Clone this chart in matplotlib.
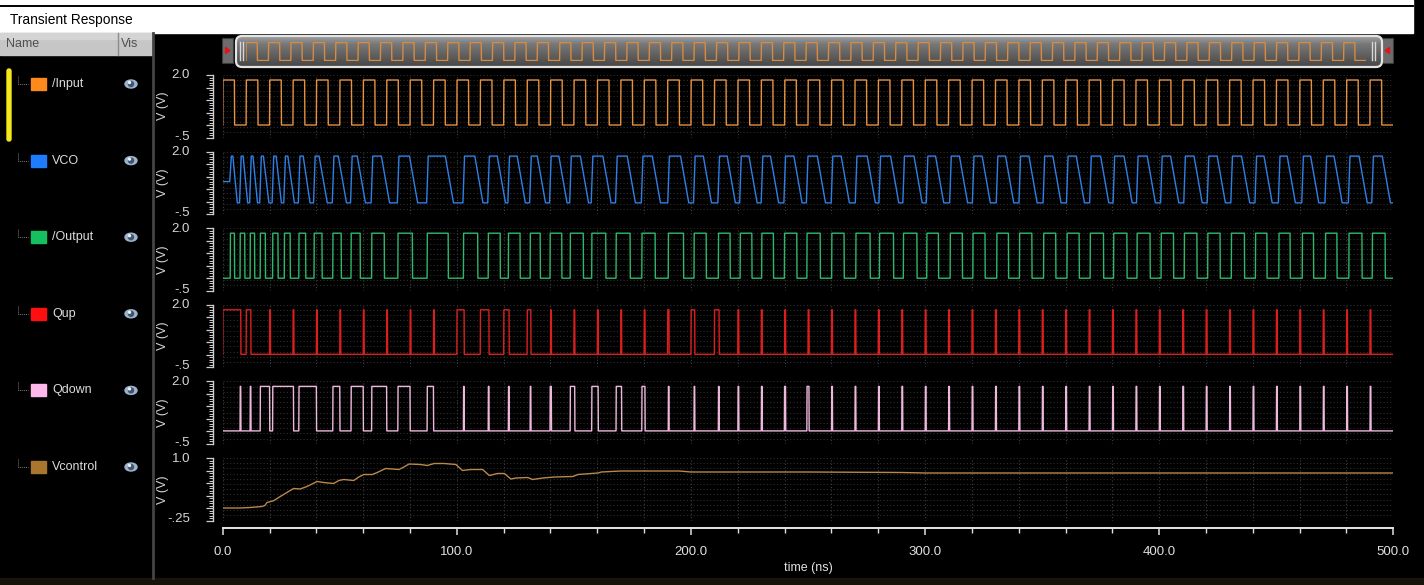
import numpy as np
import matplotlib
matplotlib.use("Agg")
import matplotlib.pyplot as plt
from matplotlib.patches import Rectangle, FancyBboxPatch, Ellipse, Polygon
from matplotlib.ticker import MultipleLocator

plt.rcParams["font.family"] = ["Liberation Sans", "DejaVu Sans"]

# ---------------------------------------------------------------- data ----
signal_names = ["/Input", "VCO", "/Output", "Qup", "Qdown", "Vcontrol"]
trace_colors = ["#E8923E", "#2F80E6", "#2DB86A", "#DC1E1E", "#EEB8DC", "#B8884C"]
swatch_colors = ["#FF8A1C", "#1E7CFF", "#16C060", "#FF0F0F", "#FFB8EA", "#A9762E"]
y_limits = [(-0.5, 2.0)] * 5 + [(-0.25, 1.0)]
y_end_labels = [("2.0", "-.5")] * 5 + [("1.0", "-.25")]
time_ticks_ns = [0, 100, 200, 300, 400, 500]
time_tick_labels = ["0.0", "100.0", "200.0", "300.0", "400.0", "500.0"]

t_stop_ns = 500.0

# reference clock
input_period_ns = 10.0
input_levels_v = (0.0, 1.8)

# buffered VCO output edges
output_rise_ns = [3.2, 7.4, 11.7, 16.0, 21.3, 26.3, 32.5, 39.0, 47.0, 54.8,
                  63.6, 74.8, 87.3, 102.8, 113.4, 122.0, 131.3, 139.8, 148.4, 157.6,
                  168.0, 179.0, 190.3, 201.3, 211.7, 221.0, 230.2, 239.9, 249.5, 260.1,
                  270.4, 280.5, 290.7, 300.7, 310.7, 320.4, 330.6, 340.3, 350.6, 360.6,
                  370.5, 380.5, 390.5, 400.8, 410.7, 420.7, 430.8, 441.1, 451.1, 461.1,
                  471.0, 481.0, 491.0]
output_fall_ns = [5.0, 9.4, 13.6, 18.2, 23.6, 28.8, 35.4, 42.4, 50.6, 58.7,
                  69.0, 81.0, 96.3, 108.9, 118.5, 127.0, 135.6, 144.8, 154.0, 163.6,
                  174.0, 184.7, 196.8, 206.5, 216.7, 226.0, 235.2, 245.2, 255.2, 265.4,
                  276.5, 286.5, 296.5, 305.7, 315.9, 325.6, 335.6, 345.6, 355.8, 365.8,
                  376.2, 386.2, 396.1, 406.1, 416.1, 426.0, 436.4, 446.0, 455.9, 465.9,
                  475.9, 486.6, 496.5]
output_levels_v = (0.0, 1.8)

# raw VCO node
vco_levels_v = (-0.05, 1.82)
vco_idle_v = 0.8

# phase-frequency detector outputs (UP starts on each reference edge)
qup_fall_ns = [7.7, 12.0, 20.35, 30.35, 40.35, 50.35, 60.35, 70.35, 80.35, 90.35,
               103.1, 113.7, 122.3, 131.6, 140.35, 150.35, 160.35, 170.35, 180.35, 190.6,
               201.6, 212.0, 220.4, 230.4, 240.4, 250.4, 260.4, 270.4, 280.4, 290.4,
               300.4, 310.4, 320.4, 330.4, 340.4, 350.4, 360.4, 370.4, 380.4, 390.4,
               400.4, 410.4, 420.4, 430.4, 440.4, 450.4, 460.4, 470.4, 480.4, 490.4]
qdown_rise_ns = [7.4, 11.7, 16.0, 21.3, 32.5, 47.0, 54.8, 63.6, 74.8, 87.3,
                 102.8, 113.4, 122.0, 131.3, 139.8, 148.4, 157.6, 168.0, 179.0, 190.3,
                 201.3, 211.7, 220.05, 230.05, 239.9, 249.5, 260.05, 270.05, 280.05, 290.05,
                 300.05, 310.05, 320.05, 330.05, 340.05, 350.05, 360.05, 370.05, 380.05, 390.05,
                 400.05, 410.05, 420.05, 430.05, 440.05, 450.05, 460.05, 470.05, 480.05, 490.05]
qdown_fall_ns = [7.7, 12.0, 20.0, 30.2, 40.0, 50.0, 60.0, 70.0, 80.0, 90.0,
                 103.1, 113.7, 122.3, 131.6, 140.35, 150.35, 160.35, 170.35, 180.35, 190.6,
                 201.6, 212.0, 220.4, 230.4, 240.4, 250.4, 260.4, 270.4, 280.4, 290.4,
                 300.4, 310.4, 320.4, 330.4, 340.4, 350.4, 360.4, 370.4, 380.4, 390.4,
                 400.4, 410.4, 420.4, 430.4, 440.4, 450.4, 460.4, 470.4, 480.4, 490.4]
pfd_levels_v = (0.02, 1.8)

# loop-filter control voltage
vcontrol_t_ns = [0.0, 7.4, 11.7, 16.7, 18.0, 18.9, 21.7, 24.6, 27.4, 30.3,
                 33.1, 36.0, 40.3, 43.1, 47.4, 49.6, 51.7, 56.0, 58.1, 60.3,
                 63.9, 66.0, 69.6, 75.3, 77.4, 79.6, 84.6, 87.4, 90.3, 94.6,
                 99.6, 102.4, 106.0, 111.0, 113.9, 117.4, 120.3, 123.1, 125.3, 130.3,
                 132.4, 136.7, 141.7, 149.6, 151.7, 160.3, 161.7, 170.0, 195.0, 200.0,
                 250.0, 290.0, 300.0, 400.0, 500.0]
vcontrol_v = [0.00, 0.00, 0.01, 0.03, 0.05, 0.11, 0.145, 0.23, 0.31, 0.39,
              0.38, 0.43, 0.53, 0.51, 0.49, 0.55, 0.57, 0.55, 0.62, 0.67,
              0.67, 0.71, 0.79, 0.77, 0.82, 0.88, 0.87, 0.85, 0.89, 0.89,
              0.87, 0.75, 0.77, 0.77, 0.65, 0.69, 0.69, 0.58, 0.60, 0.61,
              0.57, 0.60, 0.62, 0.63, 0.67, 0.70, 0.72, 0.74, 0.74, 0.72,
              0.72, 0.71, 0.70, 0.70, 0.70]

# ------------------------------------------------------------ helpers ----
W, H = 1424, 585
fig = plt.figure(figsize=(W / 100, H / 100), dpi=100, facecolor="black")


def px_axes(x0, y0, x1, y1, **kw):
    return fig.add_axes([x0 / W, 1 - y1 / H, (x1 - x0) / W, (y1 - y0) / H], **kw)


def pulse_train(rises, falls, lo, hi, t_end, edge=0.1):
    t, v = [0.0], [lo]
    for r, f in zip(rises, falls):
        t += [r, r + edge, f, f + edge]
        v += [lo, hi, hi, lo]
    t.append(t_end)
    v.append(lo)
    return np.array(t), np.array(v)


def vco_wave(rises, falls, lo, hi, idle, t_end):
    t, v = [0.0], [idle]
    n = len(rises)
    for i in range(n):
        r, f = rises[i], falls[i]
        r_next = rises[i + 1] if i + 1 < n else t_end + 10
        d = min(3.5, 0.45 * (r_next - r))
        t += [r - 0.2, r + 0.5, f - 0.35 * d, f + 0.65 * d]
        v += [idle if i == 0 else lo, hi, hi, lo]
    t.append(t_end)
    v.append(lo)
    return np.array(t), np.array(v)


input_rise_ns = np.arange(0.0, t_stop_ns, input_period_ns)
input_fall_ns = input_rise_ns + input_period_ns / 2

traces = [
    pulse_train(input_rise_ns, input_fall_ns, *input_levels_v, t_stop_ns),
    vco_wave(output_rise_ns, output_fall_ns, *vco_levels_v, vco_idle_v, t_stop_ns),
    pulse_train(output_rise_ns, output_fall_ns, *output_levels_v, t_stop_ns),
    pulse_train(input_rise_ns, qup_fall_ns, *pfd_levels_v, t_stop_ns),
    pulse_train(qdown_rise_ns, qdown_fall_ns, *pfd_levels_v, t_stop_ns),
    (np.array(vcontrol_t_ns), np.array(vcontrol_v)),
]

# ------------------------------------------------------- window chrome ----
bg = px_axes(0, 0, W, H)
bg.set_xlim(0, W)
bg.set_ylim(H, 0)
bg.axis("off")

bg.add_patch(Rectangle((0, 0), 1413, 33, color="white", zorder=1))
bg.plot([0, 1413], [5.5, 5.5], color="black", lw=1.4, zorder=2)
bg.text(10, 20, "Transient Response", color="black", fontsize=9.9, va="center", zorder=3)

# signal list header
bg.add_patch(Rectangle((0, 33), 152, 22, color="#c6c6c6", zorder=1))
bg.add_patch(Rectangle((0, 33), 152, 6, color="#d4d4d4", zorder=1))
bg.plot([117.5, 117.5], [33, 55], color="#8c8c8c", lw=1, zorder=2)
bg.text(6, 44, "Name", color="#505050", fontsize=9, va="center", zorder=3)
bg.text(121, 44, "Vis", color="#505050", fontsize=9, va="center", zorder=3)
bg.plot([152.5, 152.5], [33, 578], color="#444444", lw=2, zorder=2)
bg.add_patch(Rectangle((0, 578), W, 7, color="#17120a", zorder=1))

# selection marker
bg.add_patch(FancyBboxPatch((7, 69), 4, 72, boxstyle="round,pad=0,rounding_size=2",
                            color="#F2E81C", zorder=2))

STRIP_TOP0, STRIP_PITCH, STRIP_H = 75.0, 76.6, 62.5
X0, X1 = 222.7, 1393.3

for i, name in enumerate(signal_names):
    top = STRIP_TOP0 + i * STRIP_PITCH
    yc = top + 9
    bg.plot([18, 18, 28], [yc - 8, yc, yc], color="#777777", lw=0.7, ls=(0, (1, 1)), zorder=2)
    bg.add_patch(Rectangle((30.5, yc - 6), 15, 12, color=swatch_colors[i], zorder=2))
    bg.text(52, yc, name, color="#dcdcdc", fontsize=9, va="center", zorder=3)
    bg.add_patch(Ellipse((131, yc), 12, 8, color="#9fb4ca", zorder=2))
    bg.add_patch(Ellipse((131, yc), 5, 5, color="#3d5470", zorder=3))
    bg.add_patch(Ellipse((129.5, yc - 1.5), 2, 2, color="#e8f0f8", zorder=4))

# overview scrollbar
bar = FancyBboxPatch((236, 36), 1146, 31, boxstyle="round,pad=0,rounding_size=6",
                     facecolor="none", edgecolor="#e4e4e4", lw=1.6, zorder=4)
bg.add_patch(bar)
grad = np.concatenate([np.linspace(0.62, 0.45, 10), np.linspace(0.45, 0.28, 21)])[:, None]
im = bg.imshow(np.repeat(grad, 2, axis=1), cmap="gray", vmin=0, vmax=1, aspect="auto",
               extent=(236, 1382, 67, 36), zorder=3, interpolation="bilinear")
im.set_clip_path(bar)
for bx, d in ((222, -1), (1382, 1)):
    bg.add_patch(Rectangle((bx, 38), 11, 25, facecolor="#6c6c6c", edgecolor="#3a3a3a",
                           lw=0.8, zorder=3))
    cx = bx + 5.5
    bg.add_patch(Polygon([(cx - 2.5 * d, 50.5), (cx + 2 * d, 47.5), (cx + 2 * d, 53.5)],
                         color="#e01515", zorder=4))
for hx in (240, 243, 1372, 1375):
    bg.plot([hx, hx], [42, 60], color="#d8d8d8", lw=1.0, zorder=5)

ov = px_axes(246, 42, 1366, 61)
ov.set_xlim(0, t_stop_ns)
ov.set_ylim(-0.05, 1.85)
ov.axis("off")
ov.patch.set_alpha(0)
ov.plot(*traces[0], color="#D98A3C", lw=1.0)

# ------------------------------------------------------------ strips ----
for i in range(6):
    top = STRIP_TOP0 + i * STRIP_PITCH
    bot = top + STRIP_H
    ymin, ymax = y_limits[i]
    ax = px_axes(X0, top, X1, bot)
    ax.set_facecolor("black")
    ax.set_xlim(0, t_stop_ns)
    ax.set_ylim(ymin, ymax)

    ax.vlines(np.arange(0, t_stop_ns + 1, 20), ymin, ymax, colors="#404040",
              linestyles=(0, (1, 2)), lw=0.8, zorder=1)
    ax.hlines(np.linspace(ymin, ymax, 13), 0, t_stop_ns, colors="#2e2e2e",
              linestyles=(0, (1, 2)), lw=0.8, zorder=1)

    t, v = traces[i]
    ax.plot(t, v, color=trace_colors[i], lw=1.0, zorder=3, clip_on=True)

    for s in ("top", "right", "bottom"):
        ax.spines[s].set_visible(False)
    ax.spines["left"].set_position(("outward", 7.2))
    ax.spines["left"].set_color("#cfcfcf")
    ax.spines["left"].set_linewidth(1.0)
    span = ymax - ymin
    ax.yaxis.set_major_locator(MultipleLocator(span / 5))
    ax.yaxis.set_minor_locator(MultipleLocator(span / 25))
    ax.tick_params(axis="y", which="major", direction="out", length=5, width=0.9,
                   colors="#cfcfcf", labelleft=False)
    ax.tick_params(axis="y", which="minor", direction="out", length=2.8, width=0.7,
                   colors="#cfcfcf")

    hi_txt, lo_txt = y_end_labels[i]
    bg.text(190, top + 0.5, hi_txt, color="#d6d6d6", fontsize=9.5, ha="right", va="center")
    bg.text(190, bot - 1, lo_txt, color="#d6d6d6", fontsize=9.5, ha="right", va="center")
    bg.text(163, (top + bot) / 2, "V (V)", color="#d6d6d6", fontsize=9, rotation=90,
            ha="center", va="center")

    if i < 5:
        ax.set_xticks([])
    else:
        ax.spines["bottom"].set_visible(True)
        ax.spines["bottom"].set_position(("outward", 5.4))
        ax.spines["bottom"].set_color("#e6e6e6")
        ax.spines["bottom"].set_linewidth(1.4)
        ax.set_xticks(time_ticks_ns)
        ax.set_xticklabels(time_tick_labels)
        ax.xaxis.set_minor_locator(MultipleLocator(20))
        ax.tick_params(axis="x", which="major", direction="out", length=5, width=1.1,
                       colors="#e0e0e0", labelsize=9.5, pad=8)
        ax.tick_params(axis="x", which="minor", direction="out", length=3.5, width=1.0,
                       colors="#e0e0e0")
        ax.set_xlabel("time (ns)", color="#e0e0e0", fontsize=9, labelpad=3)

fig.savefig("out.png", dpi=100, facecolor=fig.get_facecolor())
